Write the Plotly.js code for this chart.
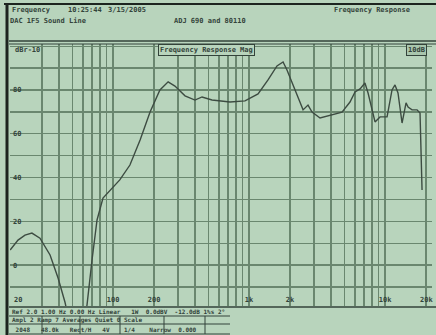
<!DOCTYPE html>
<html><head><meta charset="utf-8">
<script src="https://cdn.plot.ly/plotly-3.0.1.min.js"></script>
<style>html,body{margin:0;padding:0;background:#b8d4bc;}#c{width:436px;height:335px;}</style>
</head><body><div id="c"></div>
<script>
// Frequency (Hz) and level (dB)
const freqHz = [17.5,20,22.5,25.3,29,34.4,39.4,44.3,53.4,64.3,70,76.2,84.3,95,112,133,158,187,221,254,285,338,400,451,534,724,933,1164,1378,1604,1778,1900,2178,2494,2712,2904,3326,4140,4822,5520,6012,6546,7112,7496,8016,8434,9182,10340,11245,11830,12446,13330,14260,14760,15780,17180,18070,18380,18700];
const levelDb = [6.9,11.4,13.7,14.6,12.3,4.6,-5.9,-17,-40,-18.3,2.3,20.6,30.6,34.3,38.9,45.7,57.1,69.9,80,83.7,81.8,77.3,75.4,76.8,75.4,74.5,75,78.2,84.6,91,92.8,89.1,80,70.9,73.1,69.9,67.2,69,69.9,74.5,79.1,80.5,83.2,78.6,71.8,65.4,67.7,67.7,80,82.3,78.6,64.9,74.1,72.2,70.9,70.9,69.5,52.6,34.3];
const xGrid = [20,30,40,50,60,70,80,90,100,200,300,400,500,600,700,800,900,1000,2000,3000,4000,5000,6000,7000,8000,9000,10000,20000];
const xLabels = ["20","","","","","","","","100","200","","","","","","","","1k","2k","","","","","","","","10k","20k"];
const yGrid = [-10,0,10,20,30,40,50,60,70,80,90,100];
const yLabels = ["","0","","20","","40","","60","","80","",""];

const ink = '#33433a';
const grid = '#6a876f';
const mono = 'DejaVu Sans Mono, monospace';
const px = x => (x-10)/422;
const py = y => (306-y)/262;
const edgeTicks = [0, xGrid.length-1];

function txt(x,y,t,opt){
  return Object.assign({xref:'paper',yref:'paper',x:px(x),y:py(y),text:t,showarrow:false,
    xanchor:'left',yanchor:'middle',font:{family:mono,size:7,color:ink,weight:'bold'}},opt||{});
}
function ln(x0,y0,x1,y1,w,c){
  return {type:'line',xref:'paper',yref:'paper',x0:px(x0),y0:py(y0),x1:px(x1),y1:py(y1),
    line:{color:c||ink,width:w||1}};
}

// axis labels at the two edge ticks are drawn as annotations tied to the x axis so they are not clipped
const tickText = xLabels.map((t,i)=>edgeTicks.includes(i)?'':t);
const edgeAnn = edgeTicks.map(i=>({xref:'x',yref:'paper',x:Math.log10(xGrid[i]),y:py(300),text:xLabels[i],
  showarrow:false,xanchor:'center',yanchor:'middle',font:{family:mono,size:7,color:ink,weight:'bold'}}));

const annotations = [
  txt(10,10,'Frequency'), txt(66,10,'10:25:44'), txt(106,10,'3/15/2005'),
  txt(332,10,'Frequency Response'),
  txt(8,21,'DAC 1F5 Sound Line'), txt(172,21,'ADJ 690 and 80110'),
  txt(158,50,'Frequency Response Mag',{bordercolor:ink,borderwidth:1,borderpad:1,bgcolor:'#b8d4bc'}),
  txt(406,50,'10dB',{bordercolor:ink,borderwidth:1,borderpad:1,bgcolor:'#a9c6ad'}),
  txt(13,50,'dBr-10'),
  txt(10,311,'Ref 2.0 1.00 Hz 0.00 Hz Linear   1W  0.0dBV  -12.0dB 1%s 2°',{font:{family:mono,size:6,color:ink,weight:'bold'}}),
  txt(10,320,'Ampl 2 Ramp 7 Averages Quiet 0 Scale',{font:{family:mono,size:6,color:ink,weight:'bold'}}),
  txt(10,329,' 2048   48.0k   Rect/H   4V    1/4    Narrow  0.000',{font:{family:mono,size:6,color:ink,weight:'bold'}})
].concat(edgeAnn);

const shapes = [
  ln(4,4,436,4,2,'#1d241f'),
  ln(7,4,7,335,3,'#1d241f'),
  ln(9,41,436,41,1.5), ln(9,44,436,44,1),
  ln(9,307,436,307,1.5),
  ln(9,316,230,316,1), ln(9,324,230,324,1), ln(9,334,230,334,1),
  ln(42,316,42,334,1), ln(80,316,80,334,1), ln(120,316,120,334,1), ln(164,316,164,334,1), ln(205,316,205,334,1)
];

Plotly.newPlot('c',[{
  x:freqHz, y:levelDb, type:'scatter', mode:'lines',
  line:{color:'#3d4c42',width:1.4}, hoverinfo:'skip'
}],{
  width:436,height:335,
  margin:{l:10,r:4,t:44,b:29},
  paper_bgcolor:'#b8d4bc', plot_bgcolor:'#b8d4bc',
  showlegend:false,
  xaxis:{type:'log',range:[1.242,4.345],tickmode:'array',tickvals:xGrid,ticktext:tickText,
    ticklabelposition:'inside',ticks:'',showgrid:true,gridcolor:grid,gridwidth:1.2,zeroline:false,
    showline:false,tickfont:{family:mono,size:7,color:ink,weight:'bold'},fixedrange:true},
  yaxis:{range:[-18.7,101],tickmode:'array',tickvals:yGrid,ticktext:yLabels,
    ticklabelposition:'inside',ticks:'',showgrid:true,gridcolor:grid,gridwidth:1.3,zeroline:false,
    showline:false,tickfont:{family:mono,size:7,color:ink,weight:'bold'},fixedrange:true},
  annotations:annotations, shapes:shapes
},{staticPlot:true,displayModeBar:false});
</script></body></html>
